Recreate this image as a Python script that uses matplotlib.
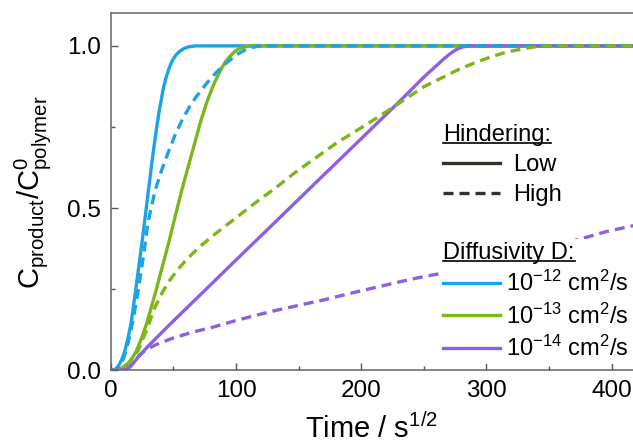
import matplotlib
matplotlib.use('Agg')
import matplotlib.pyplot as plt
from matplotlib.lines import Line2D
from matplotlib.ticker import MultipleLocator

plt.rcParams['font.family'] = ['Liberation Sans', 'DejaVu Sans']
plt.rcParams['mathtext.fontset'] = 'custom'
plt.rcParams['mathtext.rm'] = 'Liberation Sans'
plt.rcParams['mathtext.it'] = 'Liberation Sans:italic'
plt.rcParams['mathtext.bf'] = 'Liberation Sans:bold'

#%% curves (time in s^1/2, normalised concentration)
blue_low_x = [0, 2, 5, 7.4, 9.5, 11.4, 13.8, 16.2, 18, 19.9, 21.7, 23.4, 25.1, 26.8, 29.3,
              32.7, 34.7, 36.7, 38.7, 40.7, 42, 44, 46, 48, 50, 52, 55, 58, 62, 68, 420]
blue_low_y = [0, 0, 0.008, 0.022, 0.04, 0.062, 0.1, 0.145, 0.195, 0.247, 0.3, 0.35, 0.4, 0.452, 0.53,
              0.637, 0.695, 0.75, 0.8, 0.842, 0.87, 0.9, 0.925, 0.945, 0.96, 0.972, 0.983, 0.991, 0.997, 1.0, 1.0]

blue_high_x = [0, 3, 6, 8.5, 10.5, 12.2, 14.8, 17.3, 19.6, 22, 24, 26, 27.8, 29.5, 32.5, 35.4,
               40, 45, 51, 57, 63, 68, 72, 76, 80, 84, 88, 92, 95, 99, 102, 105, 108, 112, 116, 122, 420]
blue_high_y = [0, 0, 0.008, 0.022, 0.04, 0.062, 0.1, 0.145, 0.195, 0.247, 0.3, 0.35, 0.4, 0.452, 0.505, 0.554,
               0.61, 0.663, 0.722, 0.772, 0.813, 0.842, 0.862, 0.882, 0.9, 0.917, 0.932, 0.946, 0.956, 0.968, 0.976,
               0.983, 0.989, 0.994, 0.998, 1.0, 1.0]

green_low_x = [0, 5, 8, 11, 14, 17.5, 20.7, 24.7, 28.7, 32.5, 36.2, 39.8, 43.3, 46.7, 50, 53.3, 56.6,
               62, 67, 72, 77, 80, 83, 86, 89, 92, 95, 98, 101, 105, 110, 116, 420]
green_low_y = [0, 0, 0.006, 0.013, 0.022, 0.04, 0.062, 0.1, 0.145, 0.196, 0.247, 0.3, 0.35, 0.4, 0.452, 0.503, 0.554,
               0.63, 0.7, 0.77, 0.83, 0.86, 0.888, 0.912, 0.935, 0.953, 0.967, 0.979, 0.988, 0.995, 0.999, 1.0, 1.0]

green_high_x = [0, 6, 9, 12, 15, 18.5, 22, 25.5, 28.7, 32, 35.4, 40, 46, 53, 60.6, 71.3, 83.2, 100, 115,
                132.5, 148, 164.4, 180, 196.3, 210, 225.5, 249.5, 276, 290, 302.7, 316, 329.3, 338, 347, 420]
green_high_y = [0, 0, 0.006, 0.013, 0.024, 0.042, 0.062, 0.095, 0.124, 0.16, 0.195, 0.232, 0.272, 0.308, 0.342, 0.382, 0.42, 0.47, 0.515,
                0.565, 0.612, 0.657, 0.7, 0.739, 0.772, 0.811, 0.873, 0.924, 0.947, 0.965, 0.981, 0.991, 0.997, 1.0, 1.0]

purple_low_x = [0, 8, 11.5, 15, 18.5, 22, 30, 47.3, 71.3, 100, 130, 165.7, 200, 230.9, 249.5,
                258, 265.4, 271, 276, 281, 287, 420]
purple_low_y = [0, 0, 0.002, 0.01, 0.024, 0.042, 0.075, 0.142, 0.232, 0.34, 0.452, 0.586, 0.714, 0.83, 0.902,
                0.932, 0.958, 0.976, 0.989, 0.997, 1.0, 1.0]

purple_high_x = [0, 8, 11.5, 15, 18.5, 22, 27, 35.4, 48.7, 64.6, 80.6, 95, 111.2, 130, 151, 170, 191,
                 211, 230.9, 250, 263, 290, 320, 350, 375, 396, 420]
purple_high_y = [0, 0, 0.002, 0.01, 0.024, 0.042, 0.06, 0.078, 0.098, 0.117, 0.132, 0.148, 0.165, 0.183, 0.201, 0.217, 0.237,
                 0.255, 0.273, 0.289, 0.298, 0.32, 0.35, 0.38, 0.405, 0.428, 0.448]

hinder_labels = ['Low', 'High']
diff_labels = [r'10$^{\mathregular{-12}}$ cm$^{\mathregular{2}}$/s',
               r'10$^{\mathregular{-13}}$ cm$^{\mathregular{2}}$/s',
               r'10$^{\mathregular{-14}}$ cm$^{\mathregular{2}}$/s']

blue, green, purple, dark = '#1aa3e6', '#7db51b', '#8f5fe3', '#33332b'
lw = 2.4
dash = (0, (3.0, 1.8))

fig = plt.figure(figsize=(6.33, 4.48), dpi=100)
ax = fig.add_axes([0.175, 0.1734, 0.825, 0.7966])

ax.plot(blue_low_x, blue_low_y, color=blue, lw=lw)
ax.plot(green_low_x, green_low_y, color=green, lw=lw)
ax.plot(purple_low_x, purple_low_y, color=purple, lw=lw)
ax.plot(blue_high_x, blue_high_y, color=blue, lw=lw, ls=dash)
ax.plot(green_high_x, green_high_y, color=green, lw=lw, ls=dash)
ax.plot(purple_high_x, purple_high_y, color=purple, lw=lw, ls=dash)

ax.set_xlim(0, 417)
ax.set_ylim(0, 1.1)
ax.xaxis.set_major_locator(MultipleLocator(100))
ax.xaxis.set_minor_locator(MultipleLocator(50))
ax.yaxis.set_major_locator(MultipleLocator(0.5))
ax.yaxis.set_minor_locator(MultipleLocator(0.25))
ax.yaxis.set_major_formatter(matplotlib.ticker.FormatStrFormatter('%.1f'))
ax.tick_params(which='both', direction='in', color='#555555', width=1, labelsize=17.5, pad=7)
ax.tick_params(which='major', length=5)
ax.tick_params(which='minor', length=3)
ax.spines['right'].set_visible(False)
for s in ['left', 'bottom', 'top']:
    ax.spines[s].set_color('#666666')
    ax.spines[s].set_linewidth(1.1)

ax.set_xlabel(r'Time / s$^{\mathregular{1/2}}$', fontsize=21, labelpad=8)
ax.set_ylabel(r'C$_{\mathregular{product}}$/C$^{\mathregular{0}}_{\mathregular{polymer}}$', fontsize=21, labelpad=10)

#%% legends
h1 = [Line2D([], [], color=dark, lw=lw), Line2D([], [], color=dark, lw=lw, ls=dash)]
leg1 = ax.legend(h1, hinder_labels, title='Hindering:', loc='upper left', bbox_to_anchor=(0.632, 0.697),
                 fontsize=17, title_fontsize=17, alignment='left', frameon=False,
                 handlelength=2.4, handletextpad=0.55, labelspacing=0.35, borderpad=0.1, borderaxespad=0)
ax.add_artist(leg1)
h2 = [Line2D([], [], color=c, lw=lw) for c in (blue, green, purple)]
leg2 = ax.legend(h2, diff_labels, title='Diffusivity D:', loc='upper left', bbox_to_anchor=(0.632, 0.367),
                 fontsize=17, title_fontsize=17, alignment='left', frameon=True, facecolor='white',
                 edgecolor='none', framealpha=1, fancybox=False,
                 handlelength=2.4, handletextpad=0.25, labelspacing=0.31, borderpad=0.1, borderaxespad=0)

# underline the legend titles
fig.canvas.draw()
r = fig.canvas.get_renderer()
inv = fig.transFigure.inverted()
for lg in (leg1, leg2):
    bb = lg.get_title().get_window_extent(r)
    (x0, y0), (x1, _) = inv.transform([(bb.x0, bb.y0 + 3), (bb.x1, bb.y0 + 3)])
    fig.add_artist(Line2D([x0, x1], [y0, y0], color='black', lw=1.2, transform=fig.transFigure))

fig.savefig('out.png', dpi=100)
